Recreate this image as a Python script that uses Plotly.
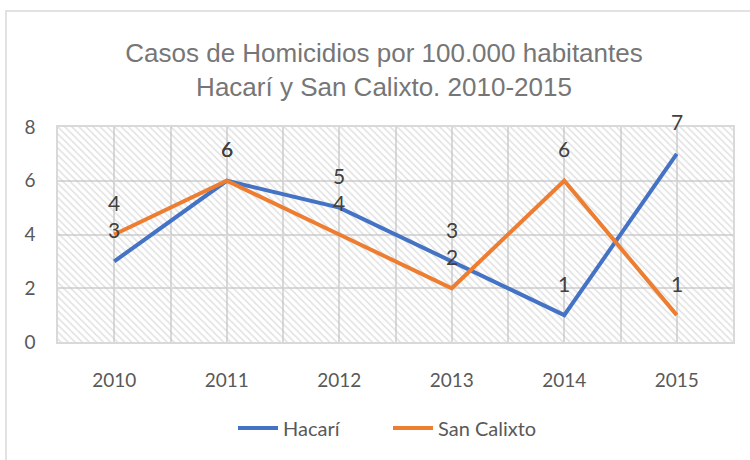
import plotly.graph_objects as go

# Data
years = ["2010", "2011", "2012", "2013", "2014", "2015"]
hacari = [3, 6, 5, 3, 1, 7]
san_calixto = [4, 6, 4, 2, 6, 1]

BLUE = "#4472C4"
ORANGE = "#ED7D31"
GRID = "#d9d9d9"
FONT = "Lato, 'Open Sans', sans-serif"

xpos = list(range(len(years)))
x_lo, x_hi = -0.5, len(years) - 0.5
y_lo, y_hi = 0, 8

fig = go.Figure()

# Hatched plot-area background
fig.add_trace(go.Scatter(
    x=[x_lo, x_hi, x_hi, x_lo, x_lo],
    y=[y_lo, y_lo, y_hi, y_hi, y_lo],
    mode="lines", line=dict(width=0),
    fill="toself", fillcolor="rgba(0,0,0,0)",
    fillpattern=dict(shape="\\", fgcolor="#c4c4c4", bgcolor="rgba(0,0,0,0)",
                     size=5, solidity=0.3),
    hoverinfo="skip", showlegend=False,
))

fig.add_trace(go.Scatter(
    x=xpos, y=hacari, name="Hacarí", mode="lines",
    line=dict(color=BLUE, width=4),
))
fig.add_trace(go.Scatter(
    x=xpos, y=san_calixto, name="San Calixto", mode="lines",
    line=dict(color=ORANGE, width=4),
))

# Value labels above each point
annotations = []
for series in (hacari, san_calixto):
    for xi, v in zip(xpos, series):
        annotations.append(dict(
            x=xi, y=v, xref="x", yref="y", text=str(v), showarrow=False,
            yshift=32, font=dict(family=FONT, size=21, color="#404040"),
        ))

fig.update_layout(
    width=750, height=460,
    margin=dict(l=58, r=17, t=127, b=118),
    paper_bgcolor="white", plot_bgcolor="white",
    title=dict(
        text="Casos de Homicidios por 100.000 habitantes<br>Hacarí y San Calixto. 2010-2015",
        x=384 / 750, xref="container", xanchor="center",
        y=1 - 62 / 460, yref="container", yanchor="middle",
        font=dict(family="'Liberation Sans Narrow', 'Arial Narrow', 'Liberation Sans', sans-serif",
                  size=26, color="#767676"),
    ),
    xaxis=dict(
        range=[x_lo, x_hi], tickmode="array", tickvals=xpos, ticktext=years,
        showgrid=True, gridcolor=GRID, gridwidth=1.5,
        minor=dict(dtick=0.5, tick0=-0.5, showgrid=True, gridcolor=GRID, gridwidth=1.5),
        showline=True, mirror=True, linecolor=GRID, linewidth=1.5,
        zeroline=False, ticks="", ticklabelstandoff=20,
        tickfont=dict(family=FONT, size=19, color="#595959"),
        fixedrange=True,
    ),
    yaxis=dict(
        range=[y_lo, y_hi], dtick=2, showgrid=True, gridcolor=GRID, gridwidth=1.5,
        showline=True, mirror=True, linecolor=GRID, linewidth=1.5,
        zeroline=False, ticks="", ticklabelstandoff=17,
        tickfont=dict(family=FONT, size=19, color="#595959"),
        fixedrange=True,
    ),
    legend=dict(
        orientation="h", x=(388 - 58) / 675, xanchor="center",
        y=-(428 - 342) / 215, yanchor="middle",
        font=dict(family=FONT, size=20, color="#595959"),
        itemwidth=40, entrywidth=100,
    ),
    annotations=annotations,
    shapes=[dict(type="rect", xref="paper", yref="paper",
                 x0=-52 / 675, x1=1.2, y0=-1.0, y1=1 + (127 - 11) / 215,
                 line=dict(color="#d9d9d9", width=1.5), fillcolor="rgba(0,0,0,0)",
                 layer="below")],
)

fig.write_html("out.html")
